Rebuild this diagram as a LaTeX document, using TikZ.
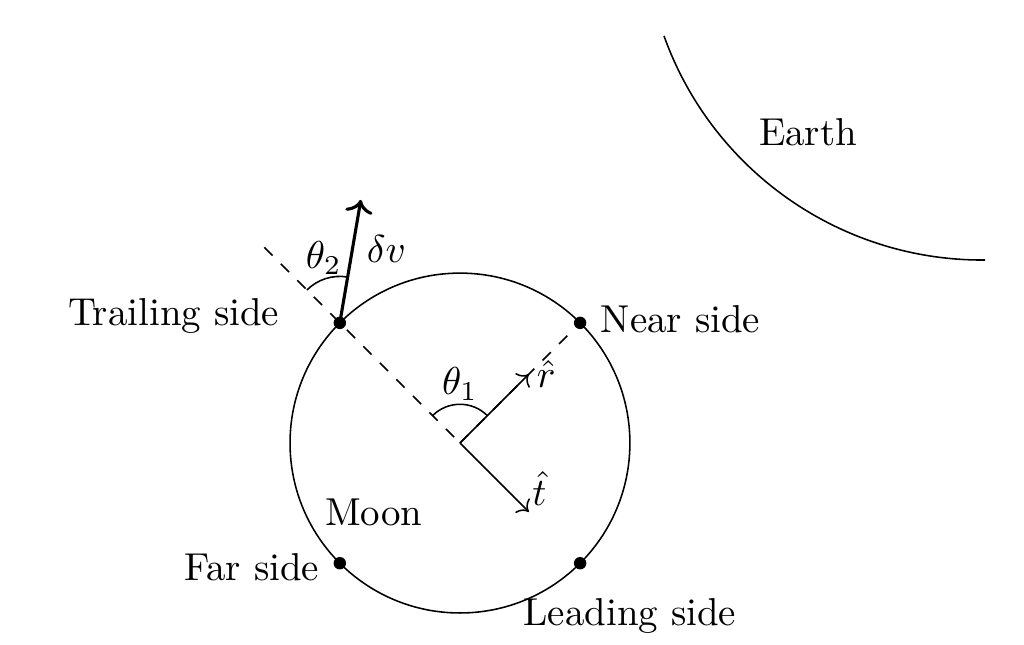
\documentclass[tikz,border=0pt]{standalone}
\usepackage{amsmath}
\usepackage{tikz}
\usetikzlibrary{arrows.meta, positioning}
\tikzset{
    dot/.style={
        circle,
        fill=black,
        inner sep=0pt,
        minimum size=3.2pt
    },
    guide/.style={
        dashed
    },
    vec/.style={
        ->
    },
    impulse/.style={
        ->,
        thick
    }
}

\begin{document}
\begin{tikzpicture}
                \useasboundingbox (-4.155,-1.816) rectangle (5.095,4.002);

                \coordinate (moon)  at (0,0);
                \coordinate (earth) at (4.718,4.707);
                \coordinate (outer) at (135:2.5);
                \coordinate (rtip)  at (45:0.88);
                \coordinate (ttip)  at (-45:0.88);

                \draw (moon) circle[radius=1.535];
                \draw (earth) ++(199.7:3.054) arc[start angle=199.7, end angle=270.5, radius=3.054];

                \node[dot] (trail) at (135:1.535) {};
                \node[dot] (near)  at (45:1.535)  {};
                \node[dot] (far)   at (225:1.535) {};
                \node[dot] (lead)  at (315:1.535) {};

                \coordinate (dvtip) at ([shift={(80.3:1.127)}]trail.center);

                \draw[guide] (outer) -- (moon);
                \draw[guide] (moon) -- (near);
                \draw[vec] (moon) -- (rtip);
                \draw[vec] (moon) -- (ttip);
                \draw[impulse] (trail.center) -- (dvtip) node[pos=0.6, right] (dvlbl) {$\delta v$};

                \draw (moon) ++(45:0.35) arc[start angle=45, end angle=135, radius=0.35];
                \draw (trail.center) ++(80.3:0.42) arc[start angle=80.3, end angle=135, radius=0.42];

                \node (th1) at (90:0.53) {$\theta_1$};
                \node (th2) at ([shift={(-0.145,0.587)}]trail.center) {$\theta_2$};
                \node[right=-1.5pt of rtip] (rhat) {$\hat{r}$};
                \node[above right=-2pt and -2.6pt of ttip] (that) {$\hat{t}$};

                \node[left=3.6mm of trail, yshift=1.8pt] (traillbl) {Trailing side};
                \node[right=0pt of near, yshift=1pt]     (nearlbl)  {Near side};
                \node[left=0pt of far, yshift=-1pt]      (farlbl)   {Far side};
                \node[below=3.7pt of lead, xshift=4.5mm] (leadlbl)  {Leading side};
                \node (moonlbl)  at (-0.777,-0.63) {Moon};
                \node (earthlbl) at (3.144,2.81)   {Earth};
            \end{tikzpicture}
\end{document}
